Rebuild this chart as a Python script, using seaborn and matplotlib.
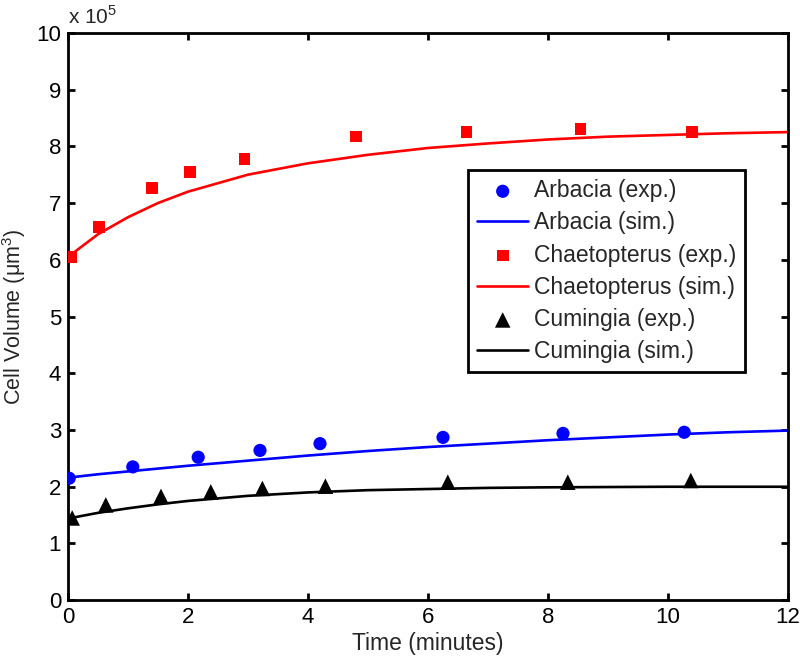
import numpy as np
import matplotlib
matplotlib.use("Agg")
import matplotlib.pyplot as plt
import seaborn as sns

sns.set_style("ticks")
plt.rcParams["font.family"] = ["Liberation Sans", "DejaVu Sans"]
plt.rcParams["mathtext.fontset"] = "custom"
plt.rcParams["mathtext.rm"] = "Liberation Sans"

# experimental points (time in minutes, volume in units of 1e5 um^3)
arb_t = [0.02, 1.08, 2.17, 3.2, 4.2, 6.25, 8.25, 10.27]
arb_v = [2.15, 2.35, 2.52, 2.64, 2.76, 2.87, 2.94, 2.96]
cha_t = [0.05, 0.52, 1.4, 2.03, 2.94, 4.8, 6.64, 8.54, 10.4]
cha_v = [6.05, 6.58, 7.27, 7.55, 7.78, 8.17, 8.25, 8.31, 8.25]
cum_t = [0.07, 0.63, 1.55, 2.38, 3.24, 4.29, 6.33, 8.33, 10.38]
cum_v = [1.45, 1.68, 1.83, 1.91, 1.97, 2.01, 2.08, 2.08, 2.11]

# simulated curves
sim_t = [0, 0.5, 1, 1.5, 2, 3, 4, 5, 6, 7, 8, 9, 10, 11, 12]
arb_sim = [2.16, 2.22, 2.27, 2.32, 2.37, 2.46, 2.55, 2.63, 2.70,
           2.76, 2.82, 2.87, 2.92, 2.96, 2.99]
cha_sim = [6.05, 6.45, 6.75, 7.0, 7.2, 7.5, 7.7, 7.85, 7.97,
           8.05, 8.12, 8.17, 8.2, 8.23, 8.25]
cum_sim = [1.44, 1.54, 1.62, 1.69, 1.75, 1.84, 1.9, 1.94, 1.96,
           1.98, 1.99, 1.995, 2.0, 2.0, 2.0]

fig = plt.figure(figsize=(8, 6.56), dpi=100)
ax = fig.add_axes([0.085, 0.085, 0.9, 0.865])

species = [("Arbacia", arb_t, arb_v, arb_sim, "#0000ff", "o", 90),
           ("Chaetopterus", cha_t, cha_v, cha_sim, "#ff0000", "s", 70),
           ("Cumingia", cum_t, cum_v, cum_sim, "#000000", "^", 125)]

for name, t, v, s, col, mk, sz in species:
    sns.scatterplot(x=t, y=v, ax=ax, color=col, marker=mk, s=sz, edgecolor="none",
                    label=name + " (exp.)", zorder=3)
    sns.lineplot(x=sim_t, y=s, ax=ax, color=col, linewidth=1.9,
                 label=name + " (sim.)", zorder=2)

ax.set_xlim(0, 12)
ax.set_ylim(0, 10)
ax.set_xticks(range(0, 13, 2))
ax.set_yticks(range(0, 11))
ax.text(0.0, 1.008, "x 10$^5$", transform=ax.transAxes, fontsize=15,
        ha="left", va="bottom")

ax.tick_params(direction="in", top=True, right=True, length=5, width=2,
               labelsize=16, colors="black", pad=5)
for sp in ax.spines.values():
    sp.set_visible(True)
    sp.set_linewidth(2)
    sp.set_color("black")

ax.set_xlabel("Time (minutes)", fontsize=16.5, labelpad=3)
ax.set_ylabel("Cell Volume (μm$^3$)", fontsize=15.5)
ax.yaxis.set_label_coords(-0.056, 0.5)

leg = ax.legend(loc="upper left", bbox_to_anchor=(0.556, 0.758), fontsize=16.5,
                frameon=True, fancybox=False, edgecolor="black",
                handlelength=2.2, handletextpad=0.25, borderpad=0.4,
                labelspacing=0.4, borderaxespad=0)
leg.get_frame().set_linewidth(2)
leg.get_frame().set_alpha(1)

fig.savefig("out.png", dpi=100)
